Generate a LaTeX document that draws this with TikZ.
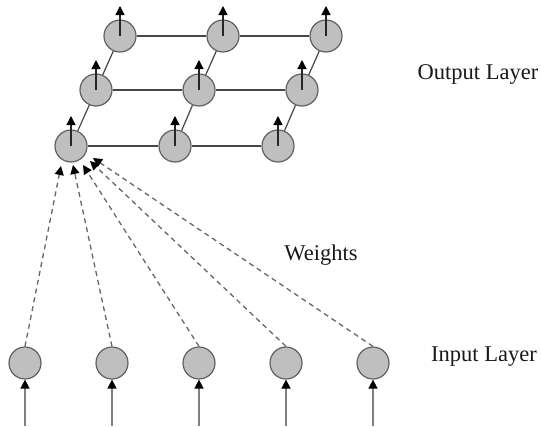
\documentclass[tikz,border=0pt]{standalone}
\usepackage{fontspec}
\setmainfont{Liberation Serif}
\usetikzlibrary{arrows.meta}
\begin{document}
\begin{tikzpicture}[x=1pt,y=-1pt,
  neuron/.style={circle,draw=black!62,fill=black!25,line width=1.2pt,minimum size=32pt,inner sep=0pt},
  link/.style={draw=black!72,line width=1.2pt},
  upout/.style={draw=black!85,line width=1.3pt,-{Triangle[length=9pt,width=9pt,fill=black,color=black]}},
  weight/.style={draw=black!60,line width=1.3pt,dash pattern=on 5pt off 4pt,-{Triangle[length=9pt,width=9pt,color=black,fill=black]}},
  feed/.style={draw=black!50,line width=1.5pt,-{Triangle[length=9pt,width=9pt,color=black,fill=black]}},
  lbl/.style={font=\fontsize{22.5}{26}\selectfont,inner sep=0pt,text=black!90}]
\useasboundingbox (0,0) rectangle (541,426);
% output layer
\node[neuron] (o31) at (120,36) {};
\node[neuron] (o32) at (223,36) {};
\node[neuron] (o33) at (326,36) {};
\node[neuron] (o21) at (96,90) {};
\node[neuron] (o22) at (199,90) {};
\node[neuron] (o23) at (302,90) {};
\node[neuron] (o11) at (71,146) {};
\node[neuron] (o12) at (175,146) {};
\node[neuron] (o13) at (278,146) {};
\foreach \r in {1,2,3}{
  \draw[link] (o\r1) -- (o\r2);
  \draw[link] (o\r2) -- (o\r3);
}
\foreach \c in {1,2,3}{
  \draw[link] (o1\c) -- (o2\c);
  \draw[link] (o2\c) -- (o3\c);
}
\foreach \r in {1,2,3}{\foreach \c in {1,2,3}{
  \draw[upout] (o\r\c.center) -- ++(0,-30);
}}
% input layer
\node[neuron] (i1) at (25,363) {};
\node[neuron] (i2) at (112,363) {};
\node[neuron] (i3) at (199,363) {};
\node[neuron] (i4) at (286,363) {};
\node[neuron] (i5) at (373,363) {};
\coordinate (b1) at (25,426);
\coordinate (b2) at (112,426);
\coordinate (b3) at (199,426);
\coordinate (b4) at (286,426);
\coordinate (b5) at (373,426);
\foreach \k in {1,...,5}{\draw[feed] (b\k) -- (i\k.south);}
% weights
\coordinate (t1) at (61,166);
\coordinate (t2) at (73,165);
\coordinate (t3) at (83,165);
\coordinate (t4) at (90,161);
\coordinate (t5) at (93,158);
\foreach \k in {1,...,5}{\draw[weight] (i\k.north) -- (t\k);}
% labels
\node[lbl] (outl) at (478,74) {Output Layer};
\node[lbl] (wl) at (321,255) {Weights};
\node[lbl] (inl) at (484,357) {Input Layer};
\end{tikzpicture}
\end{document}
